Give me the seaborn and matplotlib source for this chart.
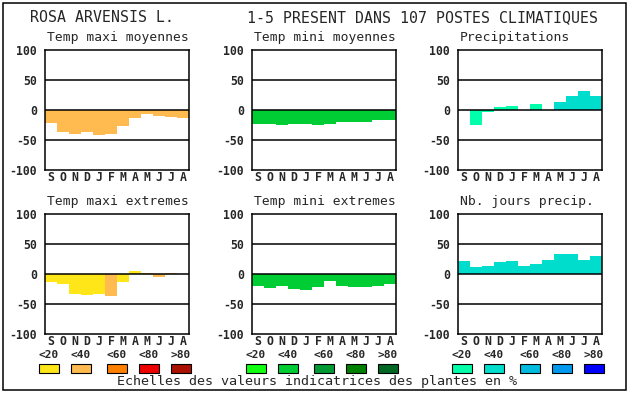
import numpy as np
import pandas as pd
import matplotlib
matplotlib.use("Agg")
import matplotlib.pyplot as plt
from matplotlib.patches import Rectangle
import seaborn as sns

# Datos
mois = ["S", "O", "N", "D", "J", "F", "M", "A", "M", "J", "J", "A"]
classes = ["<20", "<40", "<60", "<80", ">80"]

tmax_moy = [-22, -37, -40, -37, -42, -40, -27, -14, -6, -10, -12, -14]
tmax_moy_cls = [1] * 12
tmin_moy = [-23, -23, -25, -23, -23, -25, -23, -20, -20, -20, -17, -17]
tmin_moy_cls = [1] * 12
precip = [0, -25, -4, 5, 7, 0, 10, 0, 14, 24, 32, 24]
precip_cls = [0, 0, 0, 0, 0, 0, 0, 0, 1, 1, 1, 1]
tmax_ext = [-14, -17, -34, -35, -34, -37, -14, 5, 2, -5, 2, 0]
tmax_ext_cls = [0, 0, 0, 0, 0, 1, 0, 0, 1, 1, 1, 0]
tmin_ext = [-20, -23, -20, -25, -27, -22, -12, -20, -22, -22, -20, -17]
tmin_ext_cls = [1] * 12
jours_precip = [22, 12, 14, 20, 22, 14, 17, 24, 34, 34, 24, 30]
jours_precip_cls = [1] * 12

pal_chaud = ["#FFE619", "#FFBB50", "#FF8000", "#EE0000", "#AA1100"]
pal_froid = ["#11FF11", "#00CC33", "#009933", "#008000", "#006622"]
pal_eau = ["#00FFAA", "#00DDCC", "#00BBDD", "#0099EE", "#0000FF"]

panneaux = [
    ("Temp maxi moyennes", tmax_moy, tmax_moy_cls, pal_chaud),
    ("Temp mini moyennes", tmin_moy, tmin_moy_cls, pal_froid),
    ("Precipitations", precip, precip_cls, pal_eau),
    ("Temp maxi extremes", tmax_ext, tmax_ext_cls, pal_chaud),
    ("Temp mini extremes", tmin_ext, tmin_ext_cls, pal_froid),
    ("Nb. jours precip.", jours_precip, jours_precip_cls, pal_eau),
]

sns.set_theme(style="white")
plt.rcParams["font.family"] = ["DejaVu Sans Mono"]

W, H = 630, 394
fig = plt.figure(figsize=(6.3, 3.94), dpi=100)

col_x = [45, 252, 458]
row_y = [50, 214]
aw, ah = 144, 120

for k, (titre, vals, cls, pal) in enumerate(panneaux):
    r, c = divmod(k, 3)
    x0, y0 = col_x[c], row_y[r]
    ax = fig.add_axes([x0 / W, 1 - (y0 + ah) / H, aw / W, ah / H])
    df = pd.DataFrame({"pos": range(12), "val": vals,
                       "col": [pal[i] for i in cls]})
    sns.barplot(data=df, x="pos", y="val", hue="pos",
                palette=dict(zip(df["pos"], df["col"])), legend=False,
                width=1, saturation=1, linewidth=0, ax=ax)
    for yy in (50, 0, -50):
        ax.axhline(yy, color="black", lw=1.1, zorder=5)
    ax.set_xlim(-0.5, 11.5)
    ax.set_ylim(-100, 100)
    ax.set_xticks(range(12), mois)
    ax.set_yticks([100, 50, 0, -50, -100], ["100", "50", "0", "-50", "-100"])
    ax.tick_params(length=0, labelsize=8.3, pad=1)
    ax.tick_params(axis="y", pad=6)
    for lab in ax.get_xticklabels() + ax.get_yticklabels():
        lab.set_fontweight("bold")
    ax.set_xlabel("")
    ax.set_ylabel("")
    for s in ax.spines.values():
        s.set_color("black")
        s.set_linewidth(1.1)
    fig.text((x0 + 2) / W, 1 - (y0 - 12) / H, titre, fontsize=9.4,
             va="center", ha="left")

    # légende des classes sous la deuxième rangée
    if r == 1:
        offs = [-6, 26, 62, 94, 126]
        for i, o in enumerate(offs):
            fig.text((x0 + o + 10) / W, 1 - 355 / H, classes[i], fontsize=8,
                     fontweight="bold", ha="center", va="center")
            fig.add_artist(Rectangle(((x0 + o) / W, 1 - 373 / H), 20 / W, 9 / H,
                                     facecolor=pal[i], edgecolor="black",
                                     lw=0.8, transform=fig.transFigure))

fig.text(30 / W, 1 - 18 / H, "ROSA ARVENSIS L.", fontsize=10.7,
         ha="left", va="center")
fig.text(247 / W, 1 - 18 / H, "1-5 PRESENT DANS 107 POSTES CLIMATIQUES",
         fontsize=10.7, ha="left", va="center")
fig.text(317 / W, 1 - 382 / H,
         "Echelles des valeurs indicatrices des plantes en %",
         fontsize=9.6, ha="center", va="center")

fig.add_artist(Rectangle((3 / W, 1 - 390 / H), 623 / W, 387 / H, fill=False,
                         edgecolor="black", lw=1.1, transform=fig.transFigure))

fig.savefig("out.png", dpi=100)
